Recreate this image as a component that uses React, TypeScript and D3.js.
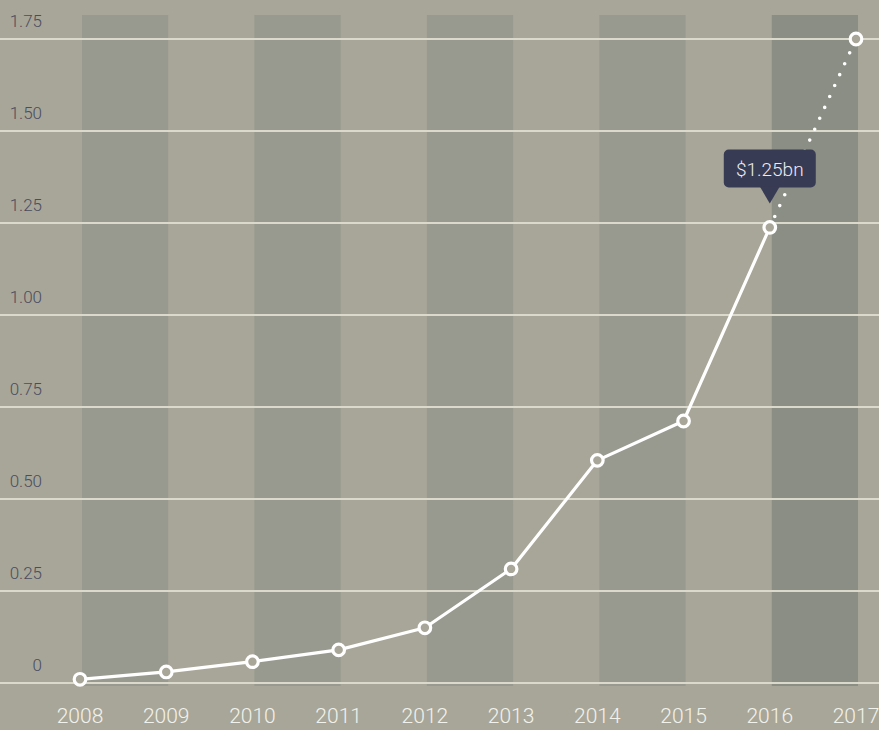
import React from "react";
import * as d3 from "d3";

const years = [2008, 2009, 2010, 2011, 2012, 2013, 2014, 2015, 2016, 2017];
const values = [0.01, 0.03, 0.058, 0.09, 0.15, 0.31, 0.605, 0.712, 1.238, 1.75];
const actualCount = 9; // 2008-2016 actual, 2017 projected
const yTicks = [0, 0.25, 0.5, 0.75, 1.0, 1.25, 1.5, 1.75];
const yTickLabels = ["0", "0.25", "0.50", "0.75", "1.00", "1.25", "1.50", "1.75"];
const bandStarts = [2008, 2010, 2012, 2014, 2016];
const tooltipYear = 2016;
const tooltipLabel = "$1.25bn";

const W = 879;
const H = 730;
const BG = "#a8a698";
const BAND = "#989a90";
const BAND_PROJ = "#8b8e84";
const GRID = "#dad9cb";
const FONT = "Roboto, 'Helvetica Neue', Arial, sans-serif";

export default function App() {
  const x = d3.scaleLinear().domain([2008, 2017]).range([80, 856]);
  const y = d3.scaleLinear().domain([0, 1.75]).range([683, 39]);
  const pts = years.map((yr, i) => [x(yr), y(values[i])] as [number, number]);
  const line = d3.line<[number, number]>();
  const actual = pts.slice(0, actualCount);
  const proj = pts.slice(actualCount - 1);

  const ti = years.indexOf(tooltipYear);
  const tx = x(tooltipYear);
  const tyTip = y(values[ti]) - 24;
  const boxW = 92, boxH = 38;
  const boxY = tyTip - 16 - boxH;

  return (
    <svg
      width={W}
      height={H}
      style={{ position: "absolute", left: 0, top: 0, display: "block" }}
    >
      <rect x={0} y={0} width={W} height={H} fill={BG} />
      {bandStarts.map((b, i) => (
        <rect
          key={b}
          x={x(b) + 2}
          y={15}
          width={x(b + 1) - x(b)}
          height={686 - 15}
          fill={i === bandStarts.length - 1 ? BAND_PROJ : BAND}
        />
      ))}
      {yTicks.map((t) => (
        <line key={t} x1={0} x2={W} y1={y(t)} y2={y(t)} stroke={GRID} strokeWidth={2} />
      ))}
      {yTicks.map((t, i) => (
        <text
          key={"l" + t}
          x={42}
          y={y(t) - 12}
          textAnchor="end"
          fontFamily={FONT}
          fontWeight={300}
          fontSize={17}
          fill="#4a4d5f"
        >
          {yTickLabels[i]}
        </text>
      ))}
      {years.map((yr) => (
        <text
          key={"x" + yr}
          x={x(yr)}
          y={723}
          textAnchor="middle"
          fontFamily={FONT}
          fontWeight={300}
          fontSize={21}
          fill="#f2f2ec"
        >
          {yr}
        </text>
      ))}
      <path
        d={line(proj) || ""}
        fill="none"
        stroke="#ffffff"
        strokeWidth={3.6}
        strokeLinecap="round"
        strokeDasharray="0 12"
      />
      <path d={line(actual) || ""} fill="none" stroke="#ffffff" strokeWidth={3.2} strokeLinejoin="round" />
      {pts.map(([px, py], i) => (
        <circle key={"p" + i} cx={px} cy={py} r={5.8} fill={BG} stroke="#ffffff" strokeWidth={3.2} />
      ))}
      <g>
        <rect x={tx - boxW / 2} y={boxY} width={boxW} height={boxH} rx={5} fill="#383b54" />
        <path
          d={`M${tx - 10},${boxY + boxH - 1} L${tx + 10},${boxY + boxH - 1} L${tx},${tyTip} Z`}
          fill="#383b54"
        />
        <text
          x={tx}
          y={boxY + 27}
          textAnchor="middle"
          fontFamily={FONT}
          fontWeight={300}
          fontSize={19}
          fill="#ececf2"
        >
          {tooltipLabel}
        </text>
      </g>
    </svg>
  );
}
